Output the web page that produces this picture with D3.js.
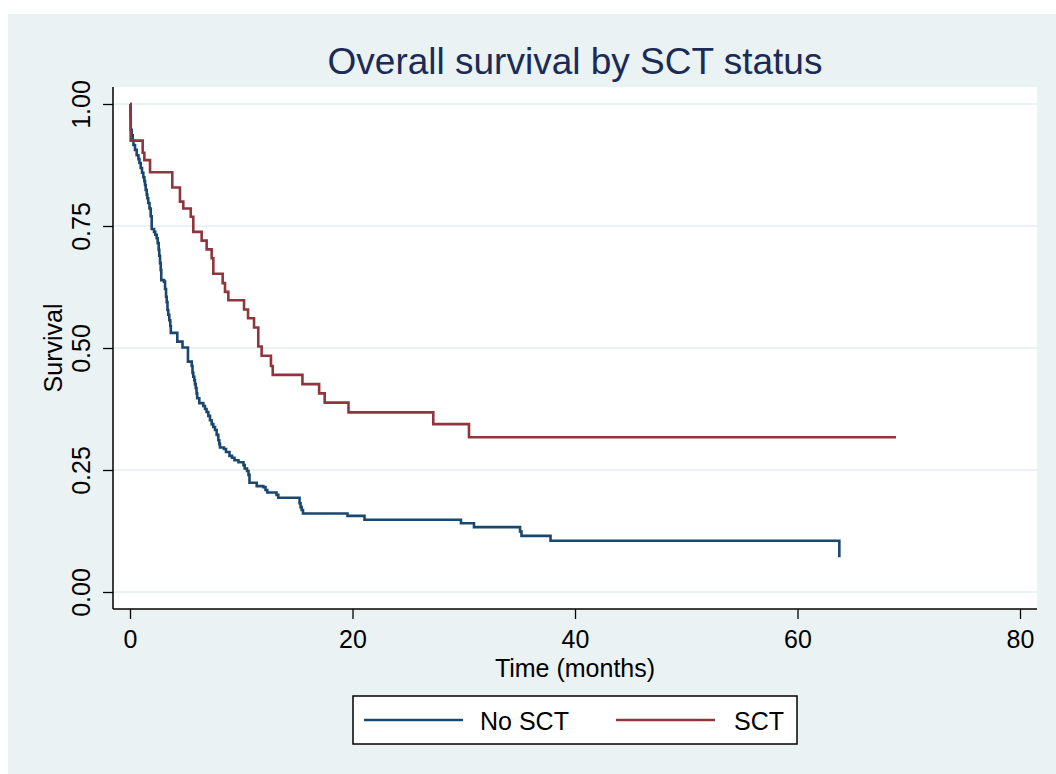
<!DOCTYPE html>
<html>
<head>
<meta charset="utf-8">
<script src="https://cdn.jsdelivr.net/npm/d3@7"></script>
<style>
  body { margin: 0; background: #ffffff; }
  text { font-family: "Liberation Sans", Arial, sans-serif; }
</style>
</head>
<body>
<div id="km"></div>
<script>
// Kaplan-Meier estimates: time (months) of each drop and survival after it
const noSctTimes = [0.04, 0.07, 0.15, 0.24, 0.31, 0.45, 0.60, 0.76, 0.85, 0.96,
    1.08, 1.20, 1.29, 1.35, 1.41, 1.50, 1.56, 1.64, 1.75, 1.86,
    1.95, 2.16, 2.27, 2.40, 2.49, 2.58, 2.63, 2.70, 2.76, 2.81,
    3.06, 3.15, 3.24, 3.30, 3.37, 3.44, 3.53, 3.62, 3.67, 4.25,
    4.72, 5.21, 5.55, 5.62, 5.69, 5.78, 5.84, 5.91, 5.98, 6.04,
    6.23, 6.59, 6.74, 6.88, 7.04, 7.19, 7.34, 7.49, 7.64, 7.79,
    7.94, 8.03, 8.09, 8.45, 8.63, 8.94, 9.17, 9.39, 9.75, 10.20,
    10.31, 10.52, 10.65, 10.74, 11.39, 11.98, 12.18, 12.34, 13.17, 13.33,
    15.24, 15.33, 15.43, 15.55, 19.55, 21.08, 29.75, 30.92, 35.06, 35.19,
    37.80, 63.76];
const noSctSurv = [0.971, 0.947, 0.936, 0.925, 0.916, 0.906, 0.895, 0.887, 0.879, 0.869,
    0.859, 0.850, 0.842, 0.834, 0.824, 0.814, 0.807, 0.797, 0.786, 0.770,
    0.744, 0.738, 0.732, 0.725, 0.715, 0.701, 0.689, 0.674, 0.660, 0.639,
    0.636, 0.621, 0.605, 0.594, 0.578, 0.568, 0.557, 0.545, 0.531, 0.513,
    0.501, 0.472, 0.463, 0.449, 0.441, 0.434, 0.426, 0.418, 0.407, 0.397,
    0.387, 0.381, 0.375, 0.369, 0.361, 0.352, 0.344, 0.338, 0.332, 0.322,
    0.311, 0.303, 0.296, 0.293, 0.287, 0.279, 0.275, 0.270, 0.266, 0.260,
    0.253, 0.248, 0.240, 0.224, 0.217, 0.215, 0.209, 0.204, 0.199, 0.193,
    0.182, 0.174, 0.168, 0.161, 0.156, 0.148, 0.141, 0.133, 0.124, 0.115,
    0.105, 0.071];
const noSctEnd = 63.76;

const sctTimes = [0.06, 1.14, 1.29, 1.80, 3.80, 4.49, 4.79, 5.46, 5.69, 6.44,
    6.89, 7.34, 7.49, 8.33, 8.54, 8.84, 10.25, 10.61, 11.15, 11.53,
    11.83, 12.67, 12.83, 15.50, 17.00, 17.50, 19.64, 27.26, 30.47];
const sctSurv = [0.925, 0.900, 0.885, 0.860, 0.829, 0.800, 0.786, 0.769, 0.738, 0.720,
    0.702, 0.684, 0.652, 0.633, 0.615, 0.598, 0.579, 0.561, 0.542, 0.503,
    0.484, 0.463, 0.445, 0.426, 0.407, 0.388, 0.368, 0.344, 0.317];
const sctEnd = 68.85;

const groups = ["No SCT", "SCT"];
const groupColors = ["#1a476f", "#90353b"];
const xTicks = [0, 20, 40, 60, 80];
const yTicks = [0, 0.25, 0.5, 0.75, 1];

// Build step series: start at (0, 1), one point per drop, then the last follow-up time
function buildSeries(times, surv, end) {
    const pts = [{t: 0, s: 1}];
    times.forEach((t, i) => pts.push({t: t, s: surv[i]}));
    const last = pts[pts.length - 1];
    if (end > last.t) pts.push({t: end, s: last.s});
    return pts;
}
const series = [
    buildSeries(noSctTimes, noSctSurv, noSctEnd),
    buildSeries(sctTimes, sctSurv, sctEnd)
];

const W = 1056, H = 774;
// plot region (white box) in page pixels
const plot = {left: 113, right: 1037, top: 87, bottom: 609};

const svg = d3.select("#km")
    .append("svg")
    .attr("width", W)
    .attr("height", H);

// outer graph region
svg.append("rect")
    .attr("x", 8).attr("y", 14)
    .attr("width", W - 8).attr("height", H - 14)
    .attr("fill", "#eaf2f3");

svg.append("rect")
    .attr("x", plot.left).attr("y", plot.top)
    .attr("width", plot.right - plot.left)
    .attr("height", plot.bottom - plot.top)
    .attr("fill", "#ffffff");

const x = d3.scaleLinear().domain([0, 80]).range([130, 1020]);
const y = d3.scaleLinear().domain([0, 1]).range([592, 104]);

// gridlines
svg.append("g")
    .selectAll("line")
    .data(yTicks)
    .enter()
    .append("line")
    .attr("x1", plot.left).attr("x2", plot.right)
    .attr("y1", d => y(d)).attr("y2", d => y(d))
    .attr("stroke", "#eaf2f3")
    .attr("stroke-width", 2);

// y axis
const yAxis = svg.append("g")
    .attr("transform", `translate(${plot.left},0)`)
    .call(d3.axisLeft(y).tickValues(yTicks).tickFormat(d3.format(".2f")).tickSize(10).tickSizeOuter(0));
yAxis.select(".domain").remove();
yAxis.selectAll(".tick line").attr("stroke", "#000").attr("stroke-width", 1.3);
yAxis.selectAll(".tick text")
    .attr("transform", "rotate(-90)")
    .attr("x", 0).attr("y", -23).attr("dy", 0)
    .style("text-anchor", "middle")
    .style("font-size", "25px")
    .attr("fill", "#000");

// x axis
const xAxis = svg.append("g")
    .attr("transform", `translate(0,${plot.bottom})`)
    .call(d3.axisBottom(x).tickValues(xTicks).tickSize(10).tickSizeOuter(0));
xAxis.select(".domain").remove();
xAxis.selectAll(".tick line").attr("stroke", "#000").attr("stroke-width", 1.3);
xAxis.selectAll(".tick text")
    .attr("y", 39).attr("dy", 0)
    .style("font-size", "25px")
    .attr("fill", "#000");

// axis lines
svg.append("line")
    .attr("x1", plot.left).attr("x2", plot.left)
    .attr("y1", plot.top).attr("y2", plot.bottom)
    .attr("stroke", "#000").attr("stroke-width", 1.5);
svg.append("line")
    .attr("x1", plot.left).attr("x2", plot.right)
    .attr("y1", plot.bottom).attr("y2", plot.bottom)
    .attr("stroke", "#000").attr("stroke-width", 1.5);

// survival curves
const line = d3.line()
    .x(d => x(d.t))
    .y(d => y(d.s))
    .curve(d3.curveStepAfter);

series.forEach((pts, i) => {
    svg.append("path")
        .datum(pts)
        .attr("fill", "none")
        .attr("stroke", groupColors[i])
        .attr("stroke-width", 2.6)
        .attr("d", line);
});

// title
svg.append("text")
    .attr("x", (plot.left + plot.right) / 2)
    .attr("y", 74)
    .style("text-anchor", "middle")
    .style("font-size", "37px")
    .attr("fill", "#1a2b57")
    .text("Overall survival by SCT status");

// axis titles
svg.append("text")
    .attr("x", (plot.left + plot.right) / 2)
    .attr("y", 677)
    .style("text-anchor", "middle")
    .style("font-size", "25px")
    .text("Time (months)");

svg.append("text")
    .attr("transform", "rotate(-90)")
    .attr("x", -(plot.top + plot.bottom) / 2)
    .attr("y", 62)
    .style("text-anchor", "middle")
    .style("font-size", "25px")
    .text("Survival");

// legend
const legend = svg.append("g");
legend.append("rect")
    .attr("x", 353).attr("y", 696)
    .attr("width", 444).attr("height", 48)
    .attr("fill", "#ffffff")
    .attr("stroke", "#000")
    .attr("stroke-width", 1.5);

const legendX = [364, 616];
groups.forEach((g, i) => {
    legend.append("line")
        .attr("x1", legendX[i]).attr("x2", legendX[i] + 99)
        .attr("y1", 720).attr("y2", 720)
        .attr("stroke", groupColors[i])
        .attr("stroke-width", 2.6);
    legend.append("text")
        .attr("x", i === 0 ? legendX[i] + 116 : 784)
        .attr("y", 730)
        .style("text-anchor", i === 0 ? "start" : "end")
        .style("font-size", "25px")
        .text(g);
});
</script>
</body>
</html>
